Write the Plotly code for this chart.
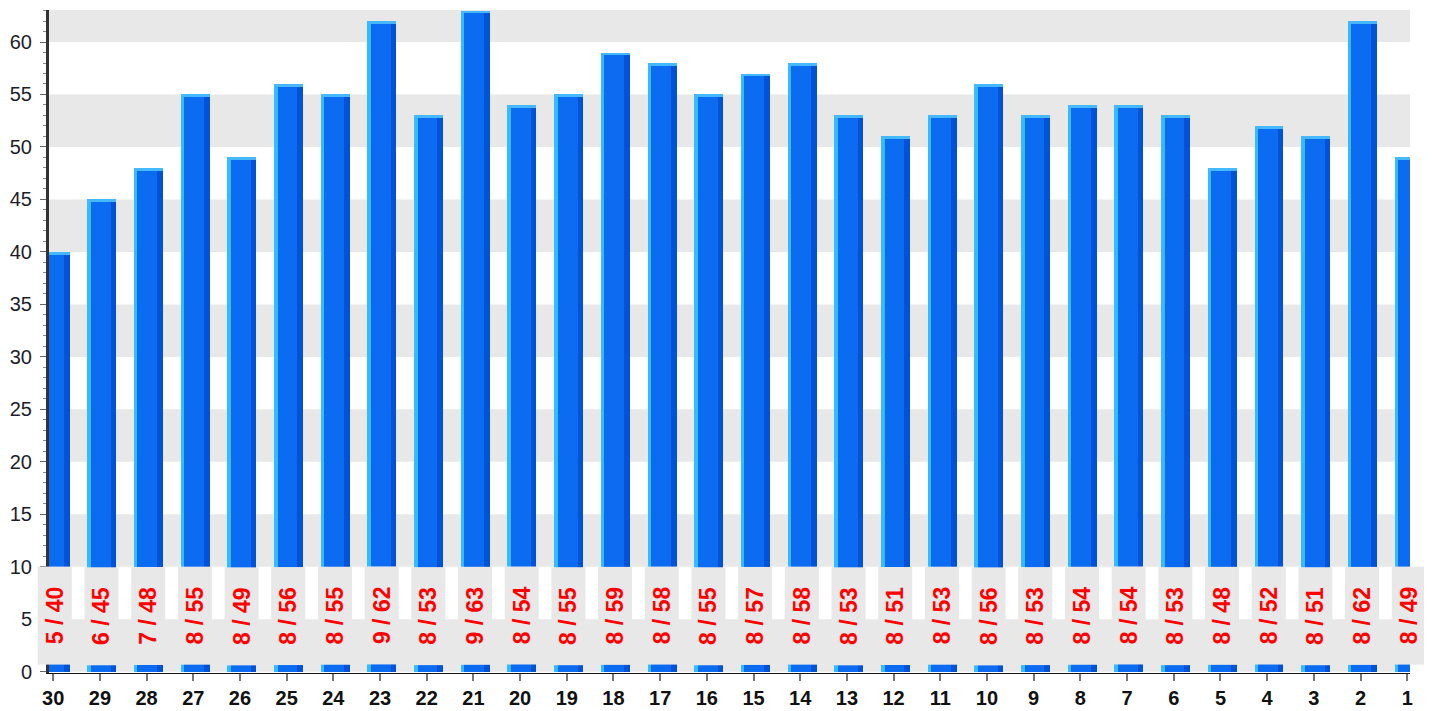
import plotly.graph_objects as go

categories = [str(n) for n in range(30, 0, -1)]
counts = [5, 6, 7, 8, 8, 8, 8, 9, 8, 9, 8, 8, 8, 8, 8, 8, 8, 8, 8, 8, 8, 8, 8, 8, 8, 8, 8, 8, 8, 8]
values = [40, 45, 48, 55, 49, 56, 55, 62, 53, 63, 54, 55, 59, 58, 55, 57, 58, 53, 51, 53, 56, 53, 54, 54, 53, 48, 52, 51, 62, 49]
labels = [f"{c} / {v}" for c, v in zip(counts, values)]

Y_BOTTOM, Y_TOP = -0.12, 63.05
LABEL_BASE, LABEL_TOP = 0.64, 10
band_starts = list(range(0, 65, 10))

MAIN = "#0b6cf2"
LIGHT = "#33bcff"
DARK = "#0052d6"
CAP = "#45b8ff"
BOX = "#e8e8e8"

fig = go.Figure()
n = len(categories)
# main bar body
fig.add_trace(go.Bar(x=categories, y=values, base=0, width=0.62, offset=-0.27,
                     marker=dict(color=MAIN, line=dict(width=0)), hoverinfo="skip"))
# left highlight
fig.add_trace(go.Bar(x=categories, y=values, base=0, width=0.075, offset=-0.27,
                     marker=dict(color=LIGHT, line=dict(width=0)), hoverinfo="skip"))
# right shade
fig.add_trace(go.Bar(x=categories, y=values, base=0, width=0.12, offset=0.23,
                     marker=dict(color=DARK, line=dict(width=0)), hoverinfo="skip"))
# top cap
fig.add_trace(go.Bar(x=categories, y=[0.28] * n, base=[v - 0.28 for v in values],
                     width=0.62, offset=-0.27,
                     marker=dict(color=CAP, line=dict(width=0)), hoverinfo="skip"))

# label boxes (annotations drawn above the axis line, not clipped)
px_per_unit = 663 / (Y_TOP - Y_BOTTOM)
box_h = (LABEL_TOP - LABEL_BASE) * px_per_unit
annotations = []
for i, lab in enumerate(labels):
    annotations.append(dict(
        x=i, y=(LABEL_BASE + LABEL_TOP) / 2, xref="x", yref="y",
        text=lab, showarrow=False, textangle=-90,
        width=box_h, height=34, bgcolor=BOX, borderpad=0, borderwidth=0,
        xshift=1.5, align="center", valign="middle",
        font=dict(family="Liberation Sans", size=23, color="#ff0000", weight="bold"),
    ))

shapes = []
for b in band_starts:
    shapes.append(dict(type="rect", xref="paper", yref="y", x0=0, x1=1,
                       y0=b, y1=min(b + 5, Y_TOP), fillcolor=BOX,
                       line=dict(width=0), layer="below"))

fig.update_layout(
    width=1424, height=703,
    margin=dict(l=41, r=22, t=2, b=38),
    paper_bgcolor="white", plot_bgcolor="white",
    barmode="overlay", showlegend=False, bargap=0,
    shapes=shapes, annotations=annotations,
    font=dict(family="Liberation Sans"),
    xaxis=dict(type="category", range=[-0.09, 29.06], showgrid=False,
               showline=True, linecolor="#111", linewidth=1,
               ticks="outside", ticklen=7, tickwidth=2, tickcolor="#777",
               tickfont=dict(size=20, color="#111", weight="bold"),
               zeroline=False, fixedrange=True),
    yaxis=dict(range=[Y_BOTTOM, Y_TOP], dtick=5, tick0=0, showgrid=False,
               showline=True, linecolor="#333", linewidth=3,
               ticks="outside", ticklen=6, tickwidth=1, tickcolor="#666",
               tickfont=dict(size=20, color="#1d1d2b"),
               minor=dict(dtick=1, ticks="outside", ticklen=3, tickcolor="#888", tickwidth=1),
               zeroline=False, fixedrange=True, ticklabelstandoff=4),
)

fig.write_html("out.html")
